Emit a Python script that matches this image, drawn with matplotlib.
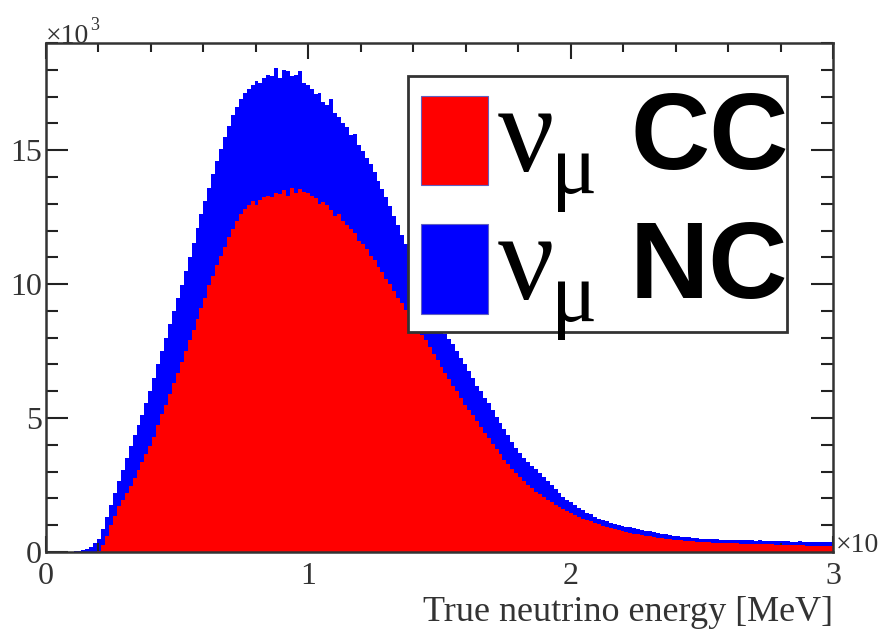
import numpy as np
import matplotlib
matplotlib.use("Agg")
import matplotlib.pyplot as plt
from matplotlib.patches import Rectangle

# ---- data (counts in units of 10^3, 200 bins from 0 to 3 x10^3 MeV) ----
e_min, e_max, n_bins = 0.0, 3.0, 200

total_counts = [
    0, 0, 0, 0, 0, 0, 0.01, 0.02, 0.04, 0.07,
    0.12, 0.2, 0.32, 0.5, 0.85, 1.3, 1.75, 2.2, 2.65, 3.05,
    3.5, 3.95, 4.35, 4.75, 5.1, 5.55, 6.0, 6.5, 7.0, 7.5,
    8.0, 8.5, 9.0, 9.5, 9.95, 10.5, 11.0, 11.55, 12.1, 12.6,
    13.1, 13.6, 14.1, 14.6, 15.05, 15.5, 15.9, 16.3, 16.6, 16.9,
    17.15, 17.3, 17.45, 17.6, 17.5, 17.7, 17.8, 17.75, 18.05, 17.7,
    18.0, 17.95, 17.75, 17.8, 17.95, 17.5, 17.45, 17.3, 17.1, 17.15,
    16.8, 16.7, 16.9, 16.4, 16.25, 16.0, 15.85, 15.55, 15.6, 15.2,
    14.95, 14.7, 14.5, 14.2, 13.85, 13.55, 13.25, 12.9, 12.55, 12.2,
    11.85, 11.5, 11.15, 10.8, 10.45, 10.1, 9.75, 9.4, 9.05, 8.75,
    8.45, 8.15, 7.95, 7.75, 7.5, 7.25, 7.0, 6.75, 6.5, 6.2,
    6.0, 5.75, 5.55, 5.3, 5.05, 4.8, 4.6, 4.35, 4.1, 3.9,
    3.7, 3.5, 3.35, 3.2, 3.1, 2.95, 2.8, 2.65, 2.5, 2.35,
    2.2, 2.05, 1.95, 1.85, 1.75, 1.65, 1.55, 1.45, 1.4, 1.3,
    1.25, 1.2, 1.15, 1.1, 1.05, 1.0, 0.98, 0.95, 0.93, 0.9,
    0.86, 0.82, 0.8, 0.77, 0.74, 0.71, 0.68, 0.66, 0.63, 0.6,
    0.59, 0.57, 0.56, 0.55, 0.53, 0.52, 0.5, 0.5, 0.48, 0.47,
    0.47, 0.46, 0.46, 0.45, 0.45, 0.44, 0.45, 0.43, 0.44, 0.43,
    0.42, 0.43, 0.41, 0.42, 0.41, 0.4, 0.41, 0.4, 0.4, 0.39,
    0.39, 0.4, 0.38, 0.39, 0.38, 0.38, 0.37, 0.38, 0.37, 0.36,
]

cc_counts = [
    0, 0, 0, 0, 0, 0, 0, 0, 0, 0,
    0, 0, 0.01, 0.03, 0.25, 0.6, 1.0, 1.35, 1.7, 1.95,
    2.2, 2.45, 2.75, 3.05, 3.35, 3.65, 3.95, 4.3, 4.75, 5.15,
    5.5, 5.9, 6.3, 6.7, 7.1, 7.5, 7.9, 8.3, 8.7, 9.1,
    9.5, 9.95, 10.3, 10.7, 11.05, 11.4, 11.75, 12.05, 12.35, 12.6,
    12.8, 12.95, 13.1, 12.95, 13.15, 13.25, 13.3, 13.25, 13.4, 13.35,
    13.5, 13.3, 13.6, 13.4, 13.55, 13.45, 13.4, 13.3, 13.2, 13.0,
    13.05, 12.95, 12.75, 12.55, 12.6, 12.35, 12.2, 12.05, 11.9, 11.6,
    11.5, 11.3, 11.05, 10.9, 10.65, 10.45, 10.2, 10.0, 9.75, 9.5,
    9.3, 9.05, 8.8, 8.6, 8.35, 8.1, 7.9, 7.65, 7.4, 7.15,
    6.9, 6.7, 6.45, 6.2, 6.0, 5.75, 5.5, 5.3, 5.1, 4.9,
    4.65, 4.45, 4.25, 4.05, 3.85, 3.65, 3.45, 3.3, 3.1, 2.95,
    2.8, 2.65, 2.5, 2.4, 2.25, 2.15, 2.05, 1.95, 1.85, 1.75,
    1.68, 1.6, 1.53, 1.45, 1.38, 1.32, 1.25, 1.2, 1.14, 1.09,
    1.03, 0.98, 0.94, 0.9, 0.86, 0.82, 0.78, 0.75, 0.72, 0.69,
    0.66, 0.63, 0.61, 0.58, 0.56, 0.54, 0.52, 0.5, 0.48, 0.46,
    0.45, 0.43, 0.42, 0.41, 0.4, 0.39, 0.38, 0.37, 0.36, 0.35,
    0.35, 0.34, 0.33, 0.33, 0.32, 0.32, 0.31, 0.31, 0.3, 0.3,
    0.29, 0.29, 0.28, 0.28, 0.28, 0.27, 0.27, 0.26, 0.26, 0.26,
    0.25, 0.25, 0.25, 0.24, 0.24, 0.24, 0.23, 0.23, 0.23, 0.22,
]

x_ticks = [0, 1, 2, 3]
y_ticks = [0, 5, 10, 15]
x_label = "True neutrino energy [MeV]"
legend_labels = ["CC", "NC"]
legend_colors = ["#ff0000", "#0000ff"]

# ---- figure ----
serif = "Liberation Serif"
W, H = 883, 631
fig = plt.figure(figsize=(W / 100, H / 100), dpi=100)
ax_l, ax_r, ax_t, ax_b = 46, 833, 43, 552
ax = fig.add_axes([ax_l / W, 1 - ax_b / H, (ax_r - ax_l) / W, (ax_b - ax_t) / H])

edges = np.linspace(e_min, e_max, n_bins + 1)
ax.stairs(total_counts, edges, fill=True, color="#0000ff", baseline=0, zorder=1)
ax.stairs(cc_counts, edges, fill=True, color="#ff0000", baseline=0, zorder=2)

ax.set_xlim(0, 3)
ax.set_ylim(0, 19.0)
ax.set_xticks(x_ticks)
ax.set_yticks(y_ticks)
ax.set_xticklabels([str(v) for v in x_ticks], fontfamily=serif, fontsize=23, color="#333333")
ax.set_yticklabels([str(v) for v in y_ticks], fontfamily=serif, fontsize=23, color="#333333")
ax.set_xticks(np.arange(0, 3.001, 0.2), minor=True)
ax.set_yticks(np.arange(0, 19.001, 1.0), minor=True)

for sp in ax.spines.values():
    sp.set_linewidth(1.8)
    sp.set_color("#333333")
    sp.set_zorder(5)

ax.tick_params(axis="x", which="major", direction="in", length=11.5, width=1.5,
               top=True, bottom=True, pad=7, color="#222222")
ax.tick_params(axis="x", which="minor", direction="in", length=6.5, width=1.5,
               top=True, bottom=True, color="#222222")
ax.tick_params(axis="y", which="major", direction="in", length=16, width=1.5,
               left=True, right=True, pad=3, color="#222222")
ax.tick_params(axis="y", which="minor", direction="in", length=8.5, width=1.5,
               left=True, right=True, color="#222222")
for t in ax.get_xticklines() + ax.get_yticklines():
    t.set_zorder(6)

ax.set_xlabel(x_label, fontfamily=serif, fontsize=26, color="#333333", loc="right")
ax.xaxis.set_label_coords(1.0, -0.086)
ax.xaxis.label.set_va("top")

# axis multipliers
fig.text(ax_l / W, 1 - 43 / H, "\u00d710", fontfamily=serif, fontsize=20,
         color="#333333", ha="left", va="baseline")
fig.text(90 / W, 1 - 30 / H, "3", fontfamily=serif, fontsize=13,
         color="#333333", ha="left", va="baseline")
fig.text(836 / W, 1 - 552 / H, "\u00d710", fontfamily=serif, fontsize=20,
         color="#333333", ha="left", va="baseline")

# ---- legend (manual, ROOT style) ----
def fx(px):
    return (px - ax_l) / (ax_r - ax_l)

def fy(py):
    return (ax_b - py) / (ax_b - ax_t)

ax.add_patch(Rectangle((fx(408), fy(332)), fx(787) - fx(408), fy(76) - fy(332),
                       transform=ax.transAxes, facecolor="white", edgecolor="#333333",
                       linewidth=2, zorder=10))
rows = [(96, 185), (224, 314)]
for (y0, y1), lab, col in zip(rows, legend_labels, legend_colors):
    ax.add_patch(Rectangle((fx(421), fy(y1)), fx(488) - fx(421), fy(y0) - fy(y1),
                           transform=ax.transAxes, facecolor=col, edgecolor="#6060c0",
                           linewidth=0.8, zorder=11))
    yc = (y0 + y1) / 2
    ax.text(fx(498), fy(yc + 30), "\u03bd", transform=ax.transAxes, fontfamily=serif,
            fontsize=90, ha="left", va="baseline", color="black", zorder=12)
    ax.text(fx(551), fy(yc + 52), "\u03bc", transform=ax.transAxes, fontfamily=serif,
            fontsize=62, ha="left", va="baseline", color="black", zorder=12)
    ax.text(fx(630), fy(yc + 29), lab, transform=ax.transAxes,
            fontfamily="Liberation Sans", fontweight="bold", fontsize=79,
            ha="left", va="baseline", color="black", zorder=12)

fig.savefig("out.png", dpi=100)
